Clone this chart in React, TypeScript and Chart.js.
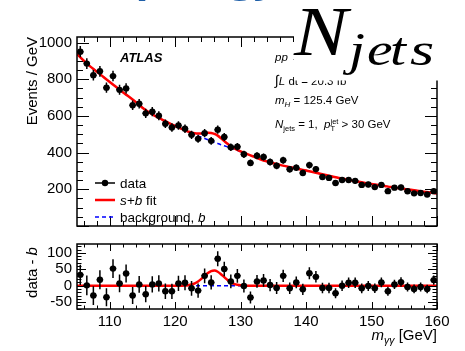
import React, { useEffect, useRef } from "react";
import { Chart, registerables } from "chart.js";

Chart.register(...registerables);

// ---------------- data ----------------
const massBins = [105.5, 106.5, 107.5, 108.5, 109.5, 110.5, 111.5, 112.5, 113.5, 114.5, 115.5, 116.5, 117.5, 118.5, 119.5, 120.5, 121.5, 122.5, 123.5, 124.5, 125.5, 126.5, 127.5, 128.5, 129.5, 130.5, 131.5, 132.5, 133.5, 134.5, 135.5, 136.5, 137.5, 138.5, 139.5, 140.5, 141.5, 142.5, 143.5, 144.5, 145.5, 146.5, 147.5, 148.5, 149.5, 150.5, 151.5, 152.5, 153.5, 154.5, 155.5, 156.5, 157.5, 158.5, 159.5];

const eventsPerGeV = [950, 885, 822, 843, 754, 817, 742, 750, 658, 666, 614, 623, 601, 557, 537, 548, 530, 497, 475, 506, 464, 525, 485, 429, 432, 391, 344, 383, 376, 349, 328, 358, 309, 318, 289, 332, 310, 267, 262, 234, 251, 251, 246, 224, 226, 212, 224, 190, 209, 210, 189, 178, 180, 172, 190];

const dataMinusBkg = [33, 1, -30, 18, -35, 52, 7, 37, -30, 4, -26, 4, 7, -17, -17, 7, 9, -8, -15, 30, 10, 82, 51, 13, 30, -1, -36, 13, 16, 2, -7, 30, -8, 10, -11, 38, 27, -7, -7, -23, 0, 9, 9, -8, -1, -8, 10, -17, 4, 11, -4, -10, -4, -10, 17];

const fitMass = [105, 106, 107, 108, 109, 110, 111, 112, 113, 114, 115, 116, 117, 118, 119, 120, 120.5, 121, 121.5, 122, 122.5, 123, 123.5, 124, 124.5, 125, 125.5, 126, 126.5, 127, 127.5, 128, 128.5, 129, 129.5, 130, 130.5, 131, 131.5, 132, 133, 134, 135, 136, 137, 138, 139, 140, 141, 142, 143, 144, 145, 146, 147, 148, 149, 150, 151, 152, 153, 154, 155, 156, 157, 158, 159, 160];

const bkgFit = [938, 902, 870, 842, 813, 785, 757, 729, 703, 675, 645, 620, 598, 580, 562, 545, 537, 529, 521, 513, 505, 498, 491, 484, 477, 470, 463, 456, 450, 443, 437, 431, 425, 419, 412, 405, 398, 392, 385, 378, 364, 352, 342, 333, 325, 317, 309, 302, 294, 286, 278, 270, 262, 255, 248, 241, 235, 229, 224, 218, 212, 207, 202, 197, 192, 187, 182, 177];

const sigFit = [0, 0, 0, 0, 0, 0, 0, 0, 0, 0, 0, 0, 0, 0, 0, 0, 0.1, 0.2, 0.6, 1.6, 3.5, 7, 12.8, 20.7, 29.8, 38.4, 44.4, 45.9, 42.5, 35.1, 26, 17.3, 10.3, 5.4, 2.6, 1.1, 0.4, 0.1, 0, 0, 0, 0, 0, 0, 0, 0, 0, 0, 0, 0, 0, 0, 0, 0, 0, 0, 0, 0, 0, 0, 0, 0, 0, 0, 0, 0, 0, 0];

const xTickLabels = [110, 120, 130, 140, 150, 160];
const yMainTickLabels = [200, 400, 600, 800, 1000];
const ySubTickLabels = [-50, 0, 50, 100];

// ---------------- helpers ----------------
const FONT = "'Liberation Sans', Arial, Helvetica, sans-serif";
const SERIF = "'Liberation Serif', 'Times New Roman', serif";

type Seg = {
  t?: string;
  size: number;
  it?: boolean;
  b?: boolean;
  dy?: number;
  fam?: string;
  sup?: string;
  sub?: string;
};

const fontOf = (s: Seg) => `${s.it ? "italic " : ""}${s.b ? "bold " : ""}${s.size}px ${s.fam || FONT}`;

function segWidth(ctx: CanvasRenderingContext2D, s: Seg) {
  ctx.font = fontOf(s);
  if (s.sup !== undefined || s.sub !== undefined) {
    return Math.max(ctx.measureText(s.sup || "").width, ctx.measureText(s.sub || "").width);
  }
  return ctx.measureText(s.t || "").width;
}

function drawSegs(
  ctx: CanvasRenderingContext2D,
  segs: Seg[],
  x: number,
  y: number,
  align: "left" | "right" | "center" = "left"
) {
  ctx.textAlign = "left";
  ctx.textBaseline = "alphabetic";
  const widths = segs.map((s) => segWidth(ctx, s));
  const total = widths.reduce((a, b) => a + b, 0);
  let cx = align === "right" ? x - total : align === "center" ? x - total / 2 : x;
  segs.forEach((s, i) => {
    ctx.font = fontOf(s);
    if (s.sup !== undefined || s.sub !== undefined) {
      if (s.sup) ctx.fillText(s.sup, cx, y - s.size * 0.6);
      if (s.sub) ctx.fillText(s.sub, cx, y + s.size * 0.4);
    } else {
      ctx.fillText(s.t || "", cx, y + (s.dy || 0));
    }
    cx += widths[i];
  });
}

function stretchedGlyph(ctx: CanvasRenderingContext2D, ch: string, x: number, y: number, font: string, sx: number) {
  ctx.save();
  ctx.translate(x, y);
  ctx.scale(sx, 1);
  ctx.font = font;
  ctx.textAlign = "left";
  ctx.textBaseline = "alphabetic";
  ctx.fillText(ch, 0, 0);
  ctx.restore();
}

const errorBars = (vals: number[], errs: number[]) => ({
  id: "errorBars",
  afterDatasetsDraw(chart: any) {
    const { ctx, chartArea: a, scales } = chart;
    const xs = scales.x;
    const ys = scales.y;
    ctx.save();
    ctx.beginPath();
    ctx.rect(a.left, a.top, a.right - a.left, a.bottom - a.top);
    ctx.clip();
    ctx.strokeStyle = "#000";
    ctx.lineWidth = 1.5;
    massBins.forEach((m, i) => {
      const px = xs.getPixelForValue(m);
      const py = ys.getPixelForValue(vals[i]);
      ctx.beginPath();
      ctx.moveTo(px, ys.getPixelForValue(vals[i] - errs[i]));
      ctx.lineTo(px, ys.getPixelForValue(vals[i] + errs[i]));
      ctx.moveTo(xs.getPixelForValue(m - 0.5), py);
      ctx.lineTo(xs.getPixelForValue(m + 0.5), py);
      ctx.stroke();
    });
    ctx.restore();
  },
});

const frameTicks = (o: { xMaj: number; xMin: number; yMaj: number; yMin: number; yStep: number }) => ({
  id: "frameTicks",
  afterDatasetsDraw(chart: any) {
    const { ctx, chartArea: a, scales } = chart;
    const xs = scales.x;
    const ys = scales.y;
    ctx.save();
    ctx.strokeStyle = "#000";
    ctx.lineWidth = 1;
    ctx.beginPath();
    xs.ticks.forEach((t: any) => {
      const v = t.value;
      if (v < xs.min || v > xs.max) return;
      const px = Math.round(xs.getPixelForValue(v)) + 0.5;
      const len = v % 10 === 0 ? o.xMaj : o.xMin;
      ctx.moveTo(px, a.bottom);
      ctx.lineTo(px, a.bottom - len);
      ctx.moveTo(px, a.top);
      ctx.lineTo(px, a.top + len);
    });
    ys.ticks.forEach((t: any) => {
      const v = t.value;
      if (v < ys.min || v > ys.max) return;
      const py = Math.round(ys.getPixelForValue(v)) + 0.5;
      const len = v % o.yStep === 0 ? o.yMaj : o.yMin;
      ctx.moveTo(a.left, py);
      ctx.lineTo(a.left + len, py);
      ctx.moveTo(a.right, py);
      ctx.lineTo(a.right - len, py);
    });
    ctx.stroke();
    ctx.lineWidth = 1.5;
    ctx.strokeRect(a.left, a.top, a.right - a.left, a.bottom - a.top);
    ctx.restore();
  },
});

const upperDecor = {
  id: "upperDecor",
  afterDraw(chart: any) {
    const ctx: CanvasRenderingContext2D = chart.ctx;
    ctx.save();
    ctx.fillStyle = "#000";

    // y title
    ctx.save();
    ctx.translate(36.5, 37);
    ctx.rotate(-Math.PI / 2);
    drawSegs(ctx, [{ t: "Events / GeV", size: 15 }], 0, 0, "right");
    ctx.restore();

    // ATLAS
    drawSegs(ctx, [{ t: "ATLAS", size: 13, it: true, b: true }], 120, 62);

    // annotations
    const ax = 275;
    drawSegs(ctx, [{ t: "pp", size: 11.5, it: true }, { t: " \u2192 ", size: 11.5 }, { t: "H", size: 11.5, it: true }, { t: " \u2192 ", size: 11.5 }, { t: "\u03b3\u03b3", size: 11.5, it: true }], ax, 61);
    drawSegs(ctx, [{ t: "\u222b", size: 14 }, { t: "L", size: 11.5, it: true }, { t: " dt = 20.3 fb", size: 11.5 }, { t: "\u22121", size: 8, dy: -5 }], ax, 85);
    drawSegs(ctx, [{ t: "m", size: 11.5, it: true }, { t: "H", size: 8, it: true, dy: 3 }, { t: " = 125.4 GeV", size: 11.5 }], ax, 104);
    drawSegs(ctx, [{ t: "N", size: 11.5, it: true }, { t: "jets", size: 7.5, dy: 3 }, { t: " = 1,  ", size: 11.5 }, { t: "p", size: 11.5, it: true }, { sup: "jet", sub: "T", size: 7.5 }, { t: " > 30 GeV", size: 11.5 }], ax, 128);

    // legend
    const lx0 = 95, lx1 = 115;
    ctx.lineWidth = 1.5;
    ctx.strokeStyle = "#000";
    ctx.beginPath();
    ctx.moveTo(lx0, 183);
    ctx.lineTo(lx1, 183);
    ctx.stroke();
    ctx.beginPath();
    ctx.arc(105, 183, 3.2, 0, Math.PI * 2);
    ctx.fill();
    drawSegs(ctx, [{ t: "data", size: 13.5 }], 120, 188);

    ctx.strokeStyle = "#ff0000";
    ctx.lineWidth = 2.5;
    ctx.beginPath();
    ctx.moveTo(lx0, 200);
    ctx.lineTo(lx1, 200);
    ctx.stroke();
    drawSegs(ctx, [{ t: "s+b", size: 13.5, it: true }, { t: " fit", size: 13.5 }], 120, 205);

    ctx.strokeStyle = "#0000ff";
    ctx.lineWidth = 1.5;
    ctx.setLineDash([4, 3]);
    ctx.beginPath();
    ctx.moveTo(lx0, 217);
    ctx.lineTo(lx1, 217);
    ctx.stroke();
    ctx.setLineDash([]);
    drawSegs(ctx, [{ t: "background, ", size: 13.5 }, { t: "b", size: 13.5, it: true }], 120, 221.5);

    // overlaid slide title pieces
    ctx.fillStyle = "#ffffff";
    ctx.fillRect(294, 0, 171, 80.5);
    ctx.fillStyle = "#000";
    stretchedGlyph(ctx, "N", 294, 55, `italic 70px ${SERIF}`, 1.15);
    const jf = `italic 46px ${SERIF}`;
    stretchedGlyph(ctx, "j", 349, 65, jf, 1.25);
    stretchedGlyph(ctx, "e", 367, 65, jf, 1.25);
    stretchedGlyph(ctx, "t", 390, 65, jf, 1.25);
    stretchedGlyph(ctx, "s", 410, 65, jf, 1.35);

    ctx.fillStyle = "#1f5fa8";
    ctx.font = `bold 43px 'Open Sans', ${FONT}`;
    ctx.textAlign = "left";
    ctx.textBaseline = "alphabetic";
    ctx.fillText("Topology", 84, -9);
    ctx.restore();
  },
};

const lowerDecor = {
  id: "lowerDecor",
  afterDraw(chart: any) {
    const ctx: CanvasRenderingContext2D = chart.ctx;
    const a = chart.chartArea;
    ctx.save();
    ctx.fillStyle = "#000";
    ctx.save();
    ctx.translate(36.5, (a.top + a.bottom) / 2 - 4);
    ctx.rotate(-Math.PI / 2);
    drawSegs(ctx, [{ t: "data - ", size: 15 }, { t: "b", size: 15, it: true }], 0, 0, "center");
    ctx.restore();
    drawSegs(ctx, [{ t: "m", size: 15, it: true }, { t: "\u03b3\u03b3", size: 10.5, it: true, dy: 4 }, { t: " [GeV]", size: 15 }], a.right, 110, "right");
    ctx.restore();
  },
};

const tickFont = { family: FONT, size: 15 };

function upperConfig(): any {
  return {
    type: "scatter",
    data: {
      datasets: [
        {
          label: "data",
          data: massBins.map((m, i) => ({ x: m, y: eventsPerGeV[i] })),
          showLine: false,
          pointRadius: 3.2,
          pointBackgroundColor: "#000",
          pointBorderColor: "#000",
          pointBorderWidth: 0,
        },
        {
          label: "s+b fit",
          data: fitMass.map((m, i) => ({ x: m, y: bkgFit[i] + sigFit[i] })),
          showLine: true,
          borderColor: "#ff0000",
          borderWidth: 2.5,
          pointRadius: 0,
          cubicInterpolationMode: "monotone",
        },
        {
          label: "background, b",
          data: fitMass.map((m, i) => ({ x: m, y: bkgFit[i] })),
          showLine: true,
          borderColor: "#0000ff",
          borderWidth: 1.5,
          borderDash: [4, 3],
          pointRadius: 0,
          cubicInterpolationMode: "monotone",
        },
      ],
    },
    options: {
      responsive: false,
      animation: false,
      devicePixelRatio: 1,
      events: [],
      layout: { padding: { left: 0, top: 37, right: 28, bottom: 2 }, autoPadding: false },
      plugins: { legend: { display: false }, tooltip: { enabled: false } },
      scales: {
        x: {
          type: "linear",
          min: 105,
          max: 160,
          ticks: { stepSize: 2, display: false, includeBounds: false, autoSkip: false },
          grid: { display: false, drawTicks: false },
          border: { display: false },
          afterFit: (s: any) => {
            s.height = 0;
          },
        },
        y: {
          type: "linear",
          min: 0,
          max: 1030,
          ticks: {
            stepSize: 50,
            includeBounds: false,
            autoSkip: false,
            padding: 5,
            font: tickFont,
            color: "#000",
            callback: (v: number) => (yMainTickLabels.includes(v) ? String(v) : ""),
          },
          grid: { display: false, drawTicks: false },
          border: { display: false },
          afterFit: (s: any) => {
            s.width = 77;
          },
        },
      },
    },
    plugins: [
      errorBars(eventsPerGeV, eventsPerGeV.map((v) => Math.sqrt(v))),
      frameTicks({ xMaj: 10, xMin: 5, yMaj: 12, yMin: 6, yStep: 200 }),
      upperDecor,
    ],
  };
}

function lowerConfig(): any {
  return {
    type: "scatter",
    data: {
      datasets: [
        {
          label: "data - b",
          data: massBins.map((m, i) => ({ x: m, y: dataMinusBkg[i] })),
          showLine: false,
          pointRadius: 3.2,
          pointBackgroundColor: "#000",
          pointBorderColor: "#000",
          pointBorderWidth: 0,
        },
        {
          label: "signal",
          data: fitMass.map((m, i) => ({ x: m, y: sigFit[i] })),
          showLine: true,
          borderColor: "#ff0000",
          borderWidth: 2.5,
          pointRadius: 0,
          cubicInterpolationMode: "monotone",
        },
        {
          label: "b - b",
          data: fitMass.map((m, i) => ({ x: m, y: bkgFit[i] - bkgFit[i] })),
          showLine: true,
          borderColor: "#0000ff",
          borderWidth: 1.5,
          borderDash: [4, 3],
          pointRadius: 0,
        },
      ],
    },
    options: {
      responsive: false,
      animation: false,
      devicePixelRatio: 1,
      events: [],
      layout: { padding: { left: 0, top: 9, right: 28, bottom: 0 }, autoPadding: false },
      plugins: { legend: { display: false }, tooltip: { enabled: false } },
      scales: {
        x: {
          type: "linear",
          min: 105,
          max: 160,
          ticks: {
            stepSize: 2,
            includeBounds: false,
            autoSkip: false,
            maxRotation: 0,
            padding: 4,
            font: tickFont,
            color: "#000",
            callback: (v: number) => (xTickLabels.includes(v) ? String(v) : ""),
          },
          grid: { display: false, drawTicks: false },
          border: { display: false },
          afterFit: (s: any) => {
            s.height = 42;
          },
        },
        y: {
          type: "linear",
          min: -71,
          max: 127,
          ticks: {
            stepSize: 10,
            includeBounds: false,
            autoSkip: false,
            padding: 5,
            font: tickFont,
            color: "#000",
            callback: (v: number) => (ySubTickLabels.includes(v) ? String(v) : ""),
          },
          grid: { display: false, drawTicks: false },
          border: { display: false },
          afterFit: (s: any) => {
            s.width = 77;
          },
        },
      },
    },
    plugins: [
      errorBars(dataMinusBkg, eventsPerGeV.map((v) => Math.sqrt(v))),
      frameTicks({ xMaj: 7, xMin: 3.5, yMaj: 9, yMin: 4.5, yStep: 50 }),
      lowerDecor,
    ],
  };
}

export default function App() {
  const topRef = useRef<HTMLCanvasElement>(null);
  const botRef = useRef<HTMLCanvasElement>(null);
  useEffect(() => {
    const c1 = new Chart(topRef.current as HTMLCanvasElement, upperConfig());
    const c2 = new Chart(botRef.current as HTMLCanvasElement, lowerConfig());
    return () => {
      c1.destroy();
      c2.destroy();
    };
  }, []);
  return (
    <div style={{ position: "absolute", left: 0, top: 0, width: 465, height: 351, background: "#fff", overflow: "hidden" }}>
      <canvas ref={topRef} width={465} height={240} style={{ position: "absolute", left: 0, top: 0, width: 465, height: 240 }} />
      <canvas ref={botRef} width={465} height={121} style={{ position: "absolute", left: 0, top: 230, width: 465, height: 121 }} />
    </div>
  );
}
